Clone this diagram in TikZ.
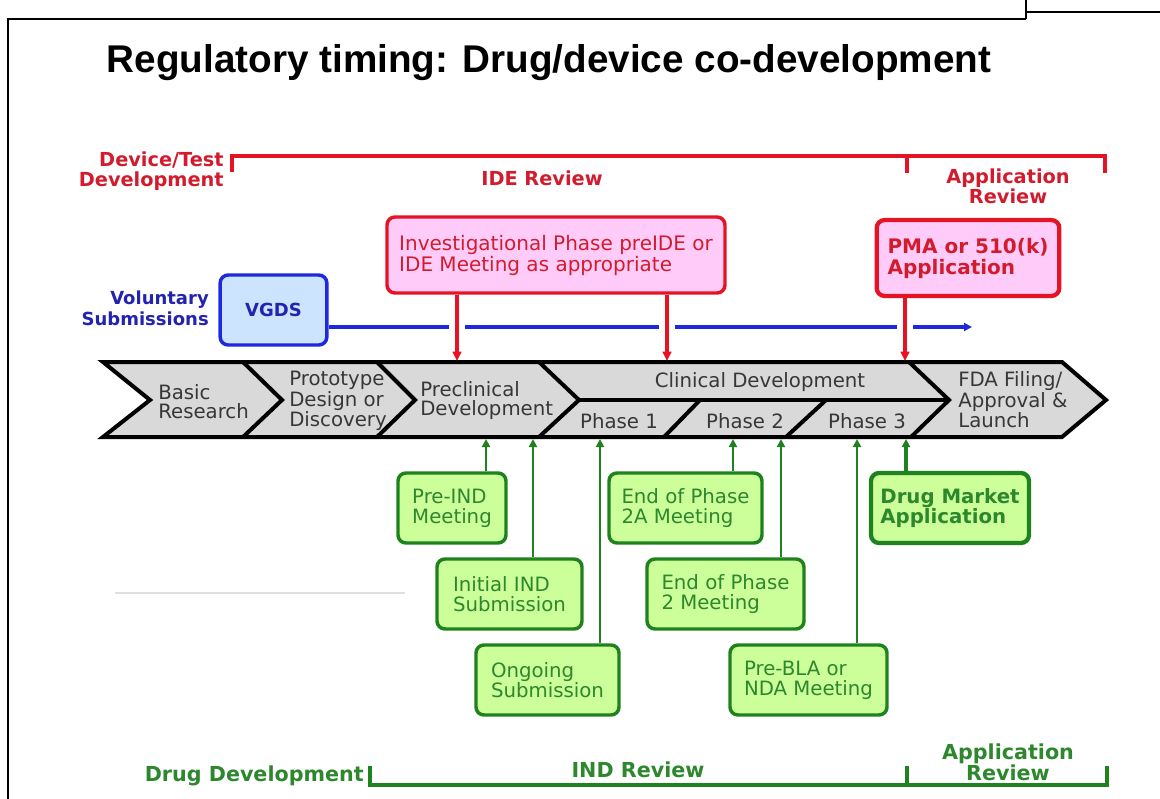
\documentclass[tikz,border=0pt]{standalone}
\usepackage{fontspec}
\setmainfont{DejaVu Sans}
\newfontfamily\titlefont{Liberation Sans}
\usetikzlibrary{arrows.meta}
\definecolor{redA}{RGB}{228,20,36}
\definecolor{redT}{RGB}{210,28,45}
\definecolor{pinkF}{RGB}{255,204,250}
\definecolor{blueA}{RGB}{30,40,220}
\definecolor{blueT}{RGB}{35,35,175}
\definecolor{blueF}{RGB}{205,228,255}
\definecolor{greenA}{RGB}{30,130,30}
\definecolor{greenT}{RGB}{45,135,45}
\definecolor{greenF}{RGB}{204,255,153}
\definecolor{chevF}{RGB}{217,217,217}
\definecolor{chevT}{RGB}{55,55,55}
\begin{document}
\begin{tikzpicture}[x=0.75pt,y=-0.75pt,
  normtxt/.style={font=\fontsize{14.8}{14.2}\selectfont, text=chevT, inner sep=0pt},
  boldlab/.style={font=\fontsize{14.5}{15}\selectfont\bfseries, inner sep=0pt},
  botlab/.style={font=\fontsize{15.5}{15}\selectfont\bfseries, inner sep=0pt, text=greenT},
  anybox/.style={rounded corners=6pt, inner sep=0pt, align=left},
  pbox/.style={anybox, draw=redA, fill=pinkF, line width=2.6pt, text=redT,
    font=\fontsize{15}{15.75}\selectfont},
  bbox/.style={anybox, draw=blueA, fill=blueF, line width=2.6pt, text=blueT,
    font=\fontsize{13.5}{15}\selectfont\bfseries},
  gbox/.style={anybox, draw=greenA, fill=greenF, line width=2.6pt, text=greenT,
    font=\fontsize{14.8}{15}\selectfont},
  redline/.style={draw=redA, line width=2.6pt, -{Triangle[length=7pt,width=6.5pt]}},
  greenline/.style={draw=greenA, line width=2.2pt, -{Triangle[length=6pt,width=6pt]}},
  bracket/.style={line width=2.8pt, line cap=butt},
]
\useasboundingbox (0,0) rectangle (1160,799);
% frame
\draw[line width=1.5pt] (8,799) -- (8,19) -- (1026,19);
\draw[line width=1.5pt] (1026,0) -- (1026,19);
\draw[line width=2pt] (1026,12) -- (1160,12);

% title
\node[font=\titlefont\fontsize{29}{35}\selectfont\bfseries, anchor=base, inner sep=0pt] (title) at (549,73) {Regulatory timing: Drug/device co-development};

% top red bracket
\draw[bracket, draw=redA] (232,172) -- (232,156) -- (1105,156) -- (1105,173);
\draw[bracket, draw=redA] (907,156) -- (907,173);
\node[boldlab, text=redT, align=right, anchor=east] (devtest) at (224,171) {Device/Test\\Development};
\node[boldlab, text=redT] (ide) at (542,178) {IDE Review};
\node[boldlab, text=redT, align=center] (appr1) at (1008,186) {Application\\Review};

% pink and PMA boxes
\node[pbox, minimum width=253.5pt, minimum height=57pt] (pink) at (556,255) {Investigational Phase preIDE or\\IDE Meeting as appropriate};
\node[pbox, line width=3.2pt, minimum width=137pt, minimum height=57pt, font=\fontsize{15}{15.75}\selectfont\bfseries] (pma) at (968,258) {PMA or 510(k)\\Application};

% voluntary submissions
\node[font=\fontsize{13.5}{16}\selectfont\bfseries, inner sep=0pt, text=blueT, align=right, anchor=east] (vol) at (209,308) {Voluntary\\Submissions};
\node[bbox, minimum width=80pt, minimum height=52.5pt, align=center] (vgds) at (273.5,310) {VGDS};

% chevron top/bottom coordinates
\coordinate (t1) at (457,361);
\coordinate (t2) at (667,361);
\coordinate (t3) at (905,361);
\coordinate (blueend) at (972,327);

% blue line
\draw[blueA, line width=3pt, -{Triangle[length=6pt,width=6pt]}] (vgds.east |- blueend) -- (blueend);
\fill[white] (449,318) rectangle (465,336);
\fill[white] (659,318) rectangle (675,336);
\fill[white] (897,318) rectangle (913,336);

% red arrows
\draw[redline] (pink.south -| t1) -- (t1);
\draw[redline] (pink.south -| t2) -- (t2);
\draw[redline, line width=3.4pt] (pma.south -| t3) -- (t3);

% chevron band
\fill[chevF] (103,362) -- (1062,362) -- (1106,400) -- (1062,437) -- (103,437) -- (150,400) -- cycle;
\node[normtxt, align=left, anchor=west] (basic) at (158,402) {Basic\\Research};
\node[normtxt, align=left, anchor=west] (proto) at (289,401) {Prototype\\Design or\\Discovery};
\node[normtxt, align=left, anchor=west] (precl) at (420,401) {Preclinical\\Development};
\node[normtxt] (clin) at (760,382) {Clinical Development};
\node[normtxt] (ph1) at (619,421) {Phase 1};
\node[normtxt] (ph2) at (745,421) {Phase 2};
\node[normtxt] (ph3) at (867,421) {Phase 3};
\node[normtxt, align=left, anchor=west] (fda) at (958,400) {FDA Filing/\\Approval \&\\Launch};
\begin{scope}[line width=3pt, line join=miter, draw=black]
\draw (103,362) -- (1062,362) -- (1106,400) -- (1062,437) -- (103,437) -- (150,400) -- cycle;
\draw (243,362) -- (282,400) -- (243,437);
\draw (377,362) -- (415,400) -- (377,437);
\draw (539,362) -- (579,400) -- (539,437);
\draw (909,362) -- (949,400) -- (911,437);
\draw (579,400) -- (949,400);
\draw (664,437) -- (700,400);
\draw (786,437) -- (826,400);
\end{scope}

% bottom coordinates
\coordinate (b1) at (486,439);
\coordinate (b2) at (533,439);
\coordinate (b3) at (600,439);
\coordinate (b4) at (733,439);
\coordinate (b5) at (781,439);
\coordinate (b6) at (857,439);
\coordinate (b7) at (906,439);

% green boxes
\node[gbox, minimum width=81pt, minimum height=52.5pt] (preind) at (452,508) {Pre-IND\\Meeting};
\node[gbox, minimum width=108.75pt, minimum height=52.5pt] (initind) at (509.5,594) {Initial IND\\Submission};
\node[gbox, minimum width=107.25pt, minimum height=52.5pt] (ongoing) at (547.5,680) {Ongoing\\Submission};
\node[gbox, minimum width=114.75pt, minimum height=52.5pt] (eop2a) at (685.5,508) {End of Phase\\2A Meeting};
\node[gbox, minimum width=117.75pt, minimum height=52.5pt] (eop2) at (725.5,594) {End of Phase\\2 Meeting};
\node[gbox, minimum width=117.75pt, minimum height=52.5pt] (prebla) at (808.5,680) {Pre-BLA or\\NDA Meeting};
\node[gbox, line width=3.2pt, minimum width=118.5pt, minimum height=52.5pt, font=\fontsize{14.8}{15}\selectfont\bfseries] (dma) at (950,508) {Drug Market\\Application};

% green arrows
\draw[greenline] (preind.north -| b1) -- (b1);
\draw[greenline] (initind.north -| b2) -- (b2);
\draw[greenline] (ongoing.north -| b3) -- (b3);
\draw[greenline] (eop2a.north -| b4) -- (b4);
\draw[greenline] (eop2.north -| b5) -- (b5);
\draw[greenline] (prebla.north -| b6) -- (b6);
\draw[greenline, line width=3.4pt] (dma.north -| b7) -- (b7);

% faint line
\draw[black!12, line width=1.2pt] (115,593) -- (405,593);

% bottom green bracket
\draw[bracket, draw=greenA] (370,766) -- (370,785) -- (1107,785) -- (1107,766);
\draw[bracket, draw=greenA] (907,766) -- (907,785);
\node[botlab, anchor=east] (drugdev) at (364,776) {Drug Development};
\node[botlab] (ind) at (638,770) {IND Review};
\node[botlab, align=center] (appr2) at (1008,762) {Application\\Review};
\end{tikzpicture}
\end{document}
